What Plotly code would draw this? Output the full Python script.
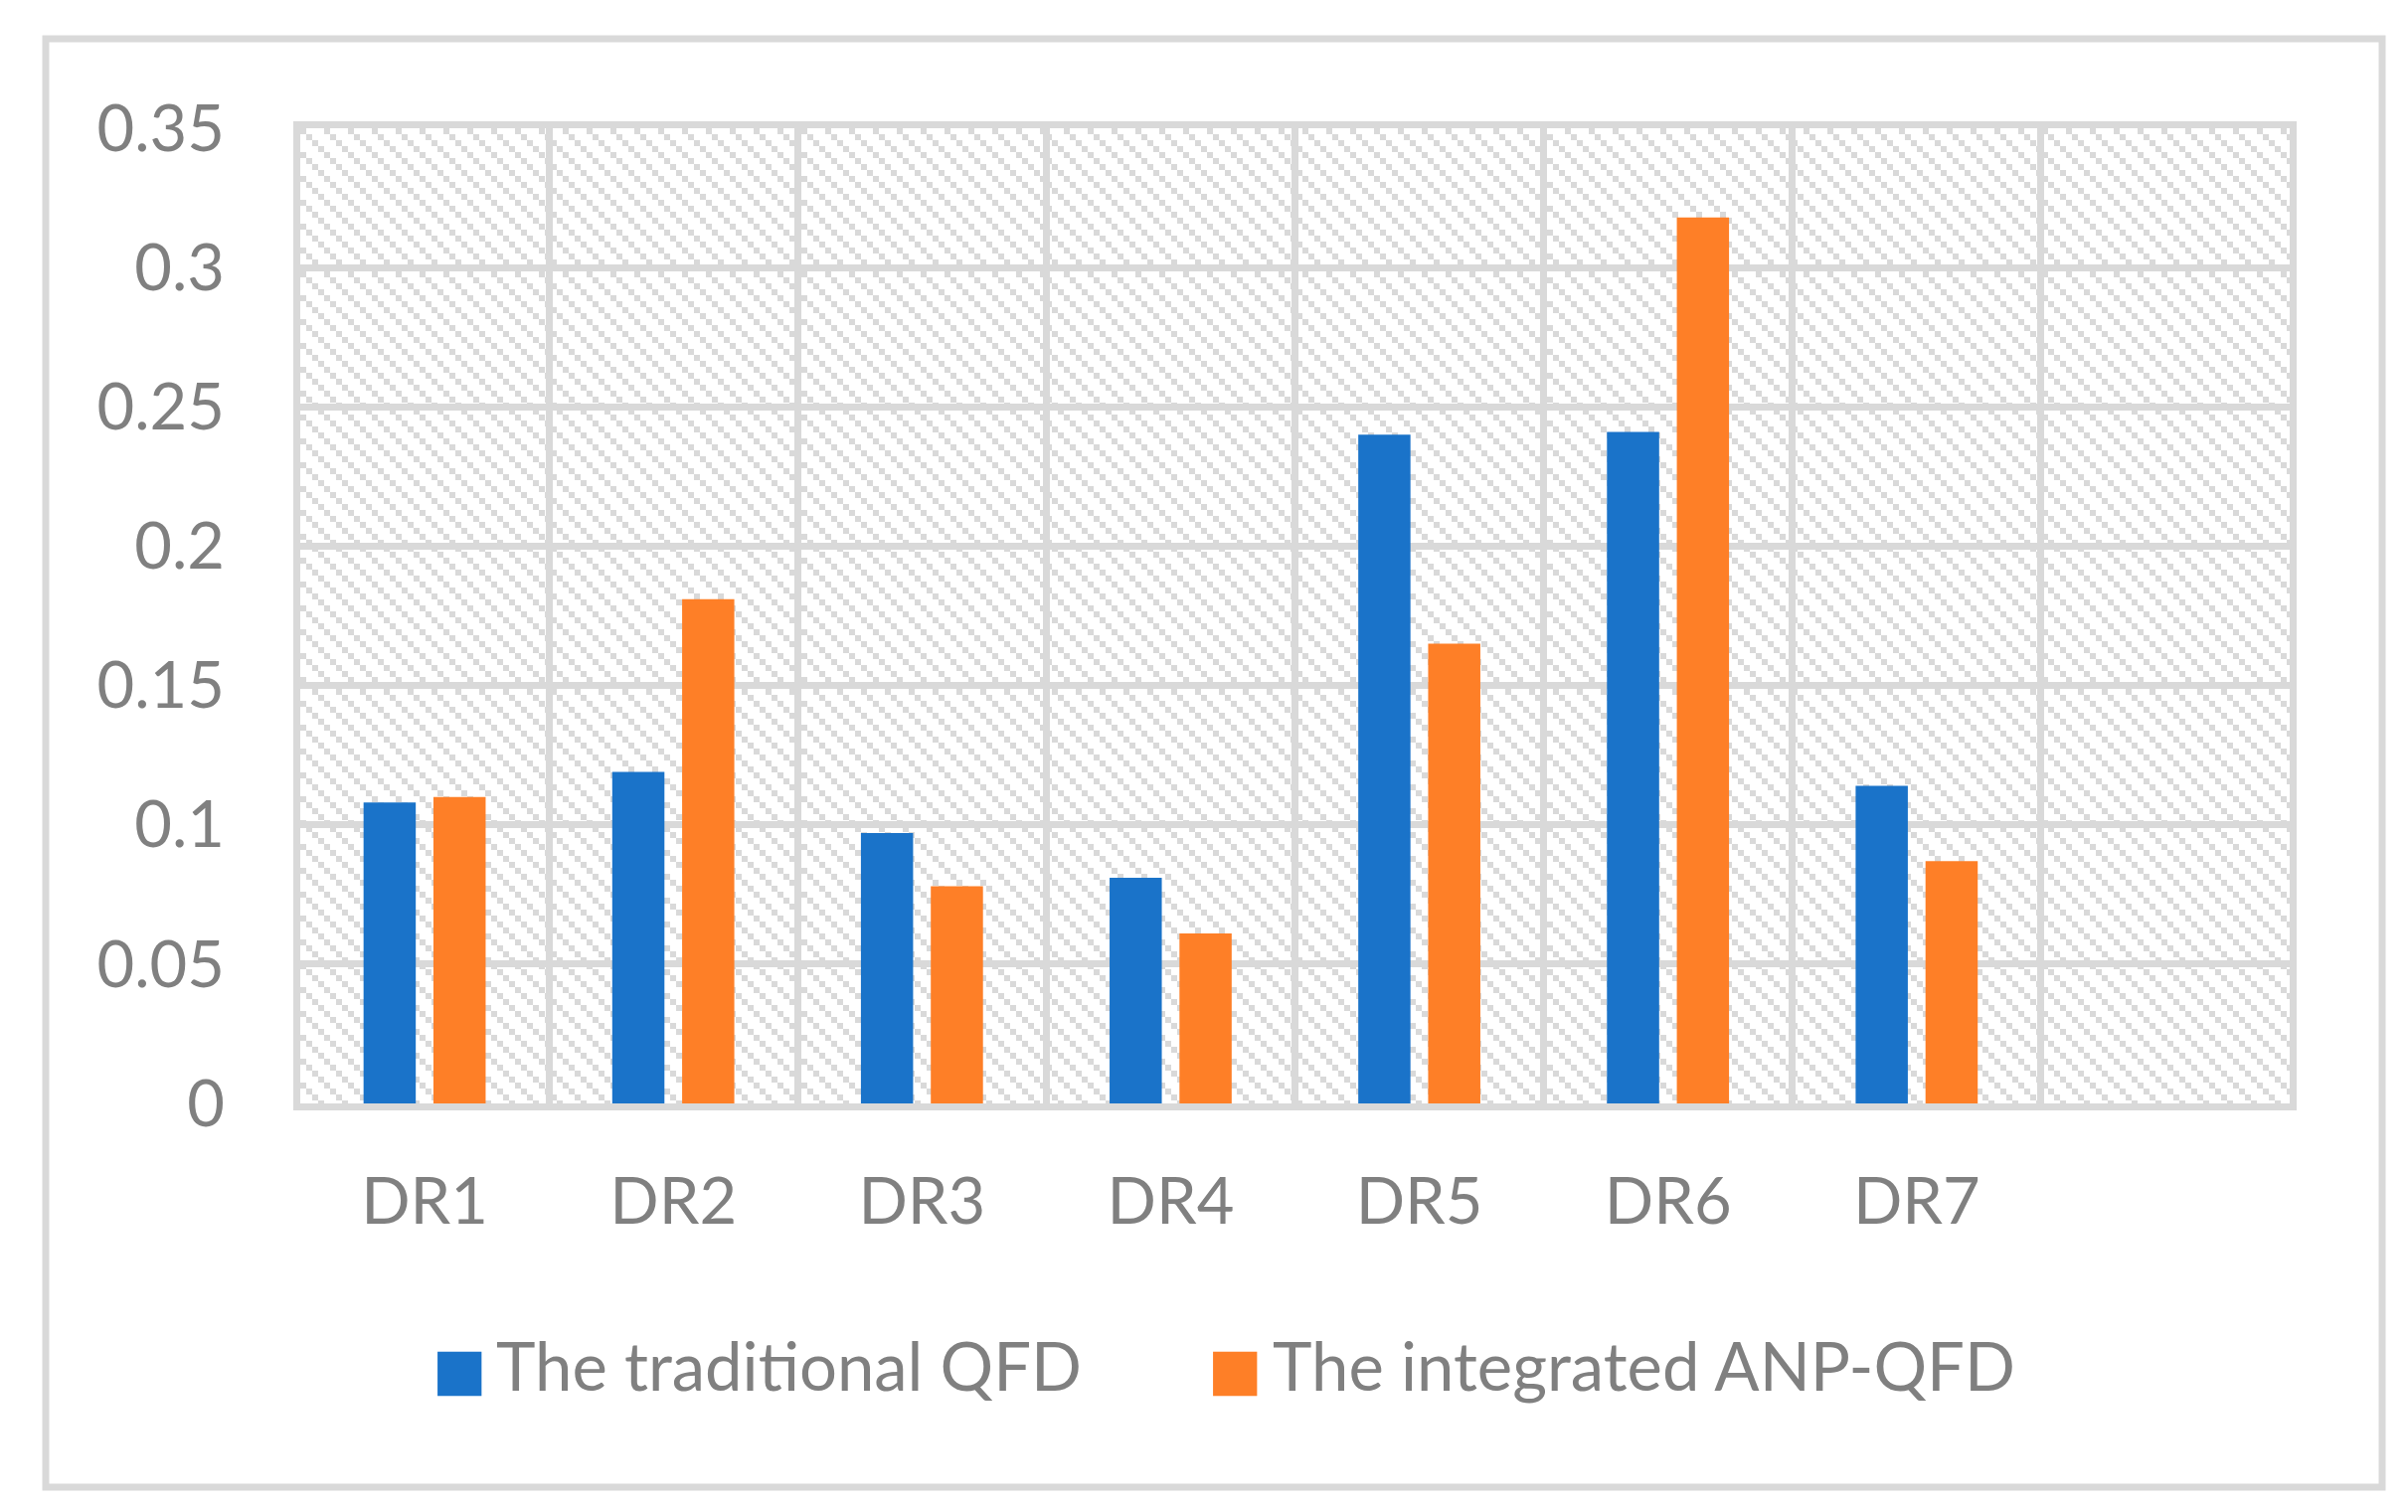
import base64
import plotly.graph_objects as go

# ---------------- data ----------------
categories = ["DR1", "DR2", "DR3", "DR4", "DR5", "DR6", "DR7"]
traditional_qfd = [0.108, 0.119, 0.097, 0.081, 0.240, 0.241, 0.114]
integrated_anp_qfd = [0.110, 0.181, 0.078, 0.061, 0.165, 0.318, 0.087]
series_names = ["The traditional QFD", "The integrated ANP-QFD"]
y_tick_values = [0, 0.05, 0.1, 0.15, 0.2, 0.25, 0.3, 0.35]
y_tick_labels = ["0", "0.05", "0.1", "0.15", "0.2", "0.25", "0.3", "0.35"]
n_slots = 8  # the category axis has one extra empty slot on the right

# ---------------- style ----------------
W, H = 2422, 1521
PL, PR, PT, PB = 294, 2295, 121, 1102
BLUE = "#1A73C9"
ORANGE = "#FE7F27"
GRID = "#D9D9D9"
TEXT = "#808080"
FONT = "Lato"
FS_TICK = 65
FS_LEGEND = 67


def px_x(x):
    return (x - PL) / (PR - PL)


def px_y(y):
    return (PB - y) / (PB - PT)


# hatch pattern for the plot background (downward diagonal, blocky)
pw, ph = PR - PL, PB - PT
svg = (
    f'<svg xmlns="http://www.w3.org/2000/svg" width="{pw}" height="{ph}" '
    f'viewBox="0 0 {pw} {ph}" shape-rendering="crispEdges">'
    '<defs><pattern id="p" width="24" height="24" patternUnits="userSpaceOnUse">'
    f'<rect x="0" y="0" width="6" height="6" fill="{GRID}"/>'
    f'<rect x="6" y="6" width="6" height="6" fill="{GRID}"/>'
    f'<rect x="12" y="12" width="6" height="6" fill="{GRID}"/>'
    f'<rect x="18" y="18" width="6" height="6" fill="{GRID}"/>'
    '</pattern></defs>'
    f'<rect width="{pw}" height="{ph}" fill="white"/>'
    f'<rect width="{pw}" height="{ph}" fill="url(#p)"/></svg>'
)
svg_uri = "data:image/svg+xml;base64," + base64.b64encode(svg.encode()).decode()

fig = go.Figure()
fig.add_trace(go.Bar(x=categories, y=traditional_qfd, name=series_names[0],
                     marker=dict(color=BLUE, line=dict(width=0)), showlegend=False))
fig.add_trace(go.Bar(x=categories, y=integrated_anp_qfd, name=series_names[1],
                     marker=dict(color=ORANGE, line=dict(width=0)), showlegend=False))

# legend drawn as text (large square swatches)
legend_items = [
    (series_names[0], BLUE, 433, 493),
    (series_names[1], ORANGE, 1213, 1274),
]
annotations = []
for name, color, sx, tx in legend_items:
    annotations.append(dict(
        text=f'<span style="color:{color}">■</span>', x=px_x(sx - 8), y=px_y(1369),
        xref="paper", yref="paper", xanchor="left", yanchor="middle",
        showarrow=False, font=dict(family="DejaVu Sans", size=58, color=color)))
    annotations.append(dict(
        text=name, x=px_x(tx - 4), y=px_y(1365),
        xref="paper", yref="paper", xanchor="left", yanchor="middle",
        showarrow=False, font=dict(family=FONT, size=FS_LEGEND, color=TEXT)))

fig.update_layout(
    width=W, height=H,
    margin=dict(l=PL, r=W - PR, t=PT, b=H - PB, pad=0),
    paper_bgcolor="white",
    plot_bgcolor="rgba(0,0,0,0)",
    barmode="group",
    bargap=0.438,
    bargroupgap=0.253,
    font=dict(family=FONT, size=FS_TICK, color=TEXT),
    images=[dict(source=svg_uri, xref="paper", yref="paper", x=0, y=1,
                 sizex=1, sizey=1, sizing="stretch", xanchor="left",
                 yanchor="top", layer="below")],
    annotations=annotations,
    shapes=[dict(type="rect", xref="paper", yref="paper",
                 x0=px_x(38), x1=px_x(2388), y0=px_y(1488), y1=px_y(31),
                 line=dict(color=GRID, width=7), fillcolor="rgba(0,0,0,0)",
                 layer="below")],
)

fig.update_xaxes(
    type="category",
    categoryorder="array", categoryarray=categories,
    range=[-0.5, n_slots - 0.5],
    tickson="boundaries",
    showgrid=True, gridcolor=GRID, gridwidth=7,
    showline=True, linecolor=GRID, linewidth=7, mirror=True,
    ticks="", ticklabelstandoff=36,
    tickfont=dict(family=FONT, size=FS_TICK, color=TEXT),
    fixedrange=True,
)
fig.update_yaxes(
    range=[0, 0.35],
    tickmode="array", tickvals=y_tick_values, ticktext=y_tick_labels,
    showgrid=True, gridcolor=GRID, gridwidth=7,
    zeroline=False,
    showline=True, linecolor=GRID, linewidth=7, mirror=True,
    ticks="", ticklabelstandoff=56,
    tickfont=dict(family=FONT, size=FS_TICK, color=TEXT),
    fixedrange=True,
)

fig.write_html("out.html")
